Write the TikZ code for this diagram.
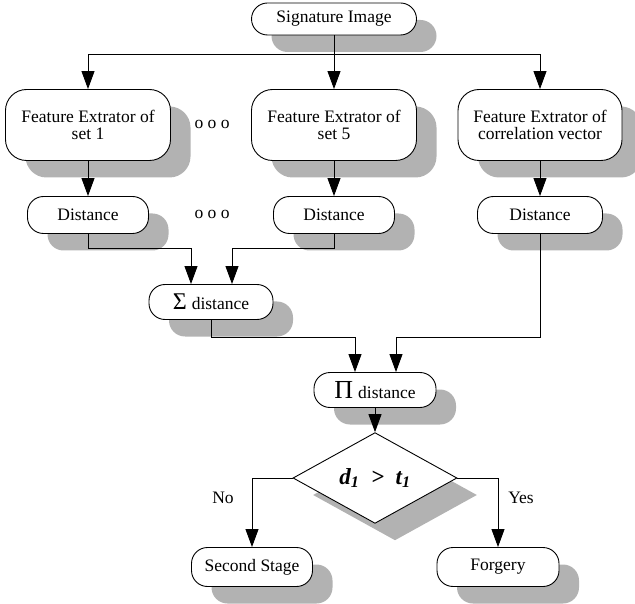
\documentclass[tikz,border=0pt]{standalone}
\usepackage{fontspec}
\setmainfont{Liberation Serif}
\usetikzlibrary{arrows.meta,shapes.geometric,shadows}

\tikzset{
  grayshadow/.style={drop shadow={shadow xshift=20pt,shadow yshift=-17pt,fill=black!30,opacity=1}},
  roundbox/.style={draw,fill=white,line width=0.9pt,rounded corners=16pt,inner sep=0pt,
    minimum height=37pt,minimum width=121pt,align=center,grayshadow},
  featbox/.style={roundbox,rounded corners=21pt,minimum width=165pt,minimum height=71pt},
  testbox/.style={draw,fill=white,diamond,line width=0.9pt,inner sep=0pt,
    minimum width=164pt,minimum height=70pt,grayshadow},
  link/.style={line width=0.9pt,-{Triangle[length=18pt,width=13pt]}}
}

\begin{document}
\begin{tikzpicture}[x=1pt,y=-1pt,font=\fontsize{17.5}{16.5}\selectfont]
\useasboundingbox (0,0) rectangle (635,604);
% boxes
\node[roundbox,minimum width=165pt,minimum height=32pt] (sig) at (334,19) {Signature Image};
\node[featbox] (fe1) at (88,125) {Feature Extrator of\\set 1};
\node[featbox] (fe5) at (334,125) {Feature Extrator of\\set 5};
\node[featbox,minimum width=164pt] (fec) at (540,125) {Feature Extrator of\\correlation vector};
\node (dots1) at (212,124) {o o o};
\node[roundbox] (d1) at (88,215) {Distance};
\node[roundbox] (d5) at (334,215) {Distance};
\node[roundbox,minimum width=125pt] (dc) at (540,215) {Distance};
\node (dots2) at (212,214) {o o o};
\node[roundbox,minimum width=124pt,minimum height=35pt] (sum) at (211,302)
  {{\fontsize{24}{24}\selectfont Σ}\hspace{5pt}distance};
\node[roundbox,minimum width=122pt,minimum height=35pt] (prod) at (375,390)
  {{\fontsize{26}{26}\selectfont Π}\hspace{5pt}distance};
\node[testbox] (test) at (375,478)
  {\fontsize{23}{23}\selectfont\bfseries\itshape d\textsubscript{1}\ \ >\ \ t\textsubscript{1}};
\node[roundbox,minimum height=39pt] (second) at (252,567) {Second Stage};
\node[roundbox,minimum width=122pt,minimum height=39pt] (forg) at (498,567) {Forgery};
\node (lblno) at (223,498) {No};
\node (lblyes) at (521,498) {Yes};
% connectors
\coordinate (split) at (334,54);
\draw[line width=0.9pt] (sig.south) -- (split);
\draw[link] (split) -| (fe1.north);
\draw[link] (split) -- (fe5.north);
\draw[link] (split) -| (fec.north);
\draw[link] (fe1.south) -- (d1.north);
\draw[link] (fe5.south) -- (d5.north);
\draw[link] (fec.south) -- (dc.north);
\draw[link] (d1.south) -- ++(0,15) -| ([xshift=-20pt]sum.north);
\draw[link] (d5.south) -- ++(0,15) -| ([xshift=21pt]sum.north);
\draw[link] (sum.south) -- ++(0,17.5) -| ([xshift=-20pt]prod.north);
\draw[link] (dc.south) -- ++(0,103.5) -| ([xshift=21pt]prod.north);
\draw[link] (prod.south) -- (test.north);
\draw[link] (test.west) -| (second.north);
\draw[link] (test.east) -| (forg.north);
\end{tikzpicture}
\end{document}
